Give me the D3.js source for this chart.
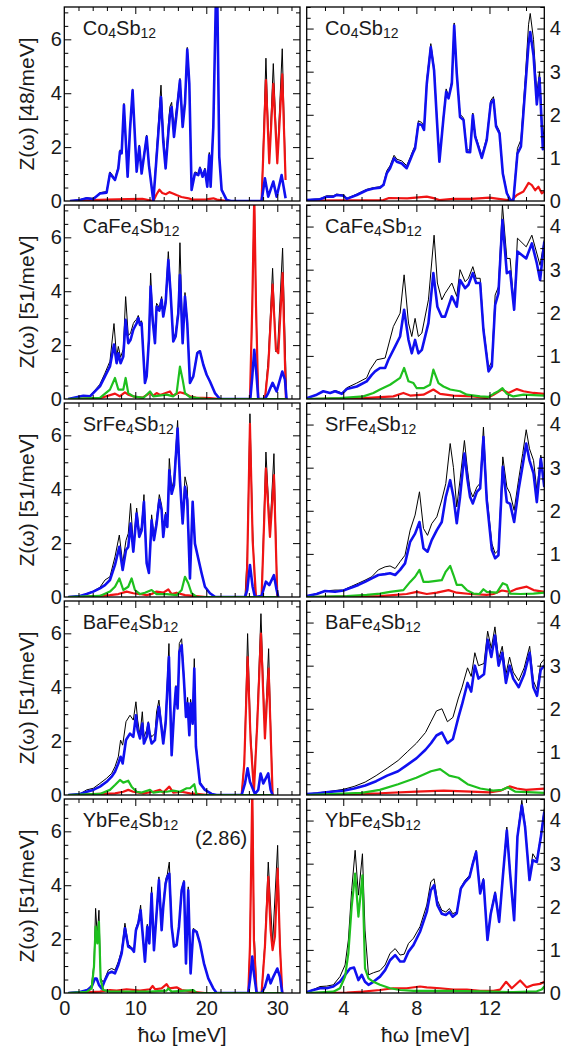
<!DOCTYPE html>
<html>
<head>
<meta charset="utf-8">
<script src="https://cdn.jsdelivr.net/npm/d3@7"></script>
<style>
  body { margin: 0; background: #fff; }
  text { font-family: "Liberation Sans", Arial, Helvetica, sans-serif; fill: #1a1a1a; }
</style>
</head>
<body>
<div id="chart"></div>
<script>
// ---- data: [hbar omega (meV), Z(omega)] ----
var names = [["Co", "4", "Sb", "12"], ["CaFe", "4", "Sb", "12"], ["SrFe", "4", "Sb", "12"], ["BaFe", "4", "Sb", "12"], ["YbFe", "4", "Sb", "12"]];
var yLabels = ["Z(\u03c9) [48/meV]", "Z(\u03c9) [51/meV]", "Z(\u03c9) [51/meV]", "Z(\u03c9) [51/meV]", "Z(\u03c9) [51/meV]"];
var leftTicks = [0, 2, 4, 6];
var rightTicks = [0, 1, 2, 3, 4];
var bottomTicksL = [0, 10, 20, 30];
var bottomTicksR = [4, 8, 12];

// Co4Sb12
var coL_black = [[0.80,0],[2.21,0.05],[3.15,0.12],[4.08,0.09],[5.02,0.31],[5.96,0.35],[6.43,1.08],[7.14,0.84],[7.61,1.28],[7.84,1.90],[8.08,1.84],[8.40,3.62],[8.92,0.96],[9.25,2.70],[9.62,4.16],[10.19,1.15],[10.56,2.08],[10.89,1.10],[11.60,2.45],[11.92,1.40],[12.54,0.02],[13.00,1.90],[13.62,4.30],[13.94,2.50],[14.27,1.48],[14.65,2.82],[14.88,3.50],[15.12,3.66],[15.45,2.65],[15.82,3.50],[16.29,4.55],[16.67,2.95],[17.00,3.80],[17.32,5.70],[17.61,4.50],[17.93,0.50],[18.40,1.08],[18.87,1.02],[19.11,1.27],[19.48,0.96],[19.81,1.22],[20.14,0.60],[20.42,1.80],[20.61,0.62],[20.99,2.85],[21.36,7.6],[21.55,7.6],[21.83,1.70],[22.16,0.43],[22.86,0.04],[23.5,0],[27.79,0],[28.40,5.30],[28.87,1.52],[29.44,5.10],[30.0,1.52],[30.70,5.65],[31.17,0.90]];
var coL_blue = [[0.80,0],[2.21,0.04],[3.15,0.10],[4.08,0.07],[5.02,0.28],[5.96,0.31],[6.43,1.02],[7.14,0.78],[7.61,1.21],[7.84,1.83],[8.08,1.77],[8.40,3.56],[8.92,0.90],[9.25,2.63],[9.62,4.11],[10.19,1.09],[10.56,2.01],[10.89,1.02],[11.60,2.38],[11.92,1.33],[12.54,0],[13.00,1.64],[13.62,3.86],[13.94,2.20],[14.27,1.21],[14.65,2.51],[14.88,3.19],[15.12,3.49],[15.45,2.38],[15.82,3.25],[16.29,4.48],[16.67,2.75],[17.00,3.62],[17.32,5.62],[17.61,4.36],[17.93,0.41],[18.40,1.02],[18.87,0.96],[19.11,1.21],[19.48,0.90],[19.81,1.15],[20.14,0.53],[20.42,1.70],[20.61,0.53],[20.99,2.75],[21.36,7.6],[21.55,7.6],[21.83,1.64],[22.16,0.41],[22.86,0.04],[23.5,0],[27.79,0],[28.26,0.84],[28.73,0.16],[29.44,0.72],[29.91,0.16],[30.61,0.96],[31.17,0.10]];
var coL_red = [[0.80,0],[3.0,0.02],[6.0,0.05],[9.0,0.07],[11.0,0.08],[12.54,0],[13.0,0.25],[13.4,0.42],[13.8,0.30],[14.3,0.25],[14.8,0.33],[15.3,0.28],[15.8,0.22],[16.5,0.15],[17.5,0.10],[18.0,0.05],[20.0,0.06],[21.0,0.10],[21.5,0.05],[22.86,0],[27.79,0],[28.40,4.49],[28.87,1.40],[29.44,4.35],[30.0,1.40],[30.70,4.70],[31.17,0.78]];
var coR_black = [[2.00,0.03],[2.73,0.05],[3.09,0.12],[3.46,0.12],[3.64,0.16],[4.01,0.14],[4.19,0.06],[4.74,0.16],[5.28,0.27],[5.65,0.31],[6.01,0.33],[6.20,0.40],[6.38,0.70],[6.56,0.82],[6.78,1.06],[6.93,0.97],[7.20,0.93],[7.47,0.82],[7.66,1.01],[7.84,1.20],[7.93,1.28],[8.11,1.86],[8.30,1.82],[8.42,1.71],[8.57,2.82],[8.79,3.65],[8.97,3.10],[9.12,1.97],[9.26,0.94],[9.48,1.97],[9.63,2.60],[9.76,2.44],[9.94,2.79],[10.07,4.13],[10.21,3.02],[10.39,2.01],[10.58,1.93],[10.76,1.19],[10.94,1.18],[11.09,2.04],[11.22,1.54],[11.34,1.38],[11.58,1.05],[11.85,1.47],[12.07,2.33],[12.22,2.42],[12.36,1.78],[12.55,1.62],[12.73,0.68],[12.95,0.20],[13.17,0],[13.31,0.04],[13.53,1.22],[13.72,1.42],[13.95,2.80],[14.14,4.10],[14.23,4.35],[14.41,3.75],[14.59,2.50],[14.74,3.0],[14.92,1.40],[15.0,1.75]];
var coR_blue = [[2.00,0.02],[2.73,0.04],[3.09,0.10],[3.46,0.10],[3.64,0.14],[4.01,0.12],[4.19,0.05],[4.74,0.14],[5.28,0.25],[5.65,0.29],[6.01,0.31],[6.20,0.37],[6.38,0.64],[6.56,0.76],[6.78,0.99],[6.93,0.91],[7.20,0.87],[7.47,0.76],[7.66,0.95],[7.84,1.14],[7.93,1.22],[8.11,1.79],[8.30,1.76],[8.42,1.65],[8.57,2.72],[8.79,3.57],[8.97,3.03],[9.12,1.91],[9.26,0.91],[9.48,1.91],[9.63,2.53],[9.76,2.38],[9.94,2.72],[10.07,4.07],[10.21,2.96],[10.39,1.95],[10.58,1.88],[10.76,1.14],[10.94,1.13],[11.09,1.99],[11.22,1.49],[11.34,1.33],[11.58,1.00],[11.85,1.41],[12.07,2.27],[12.22,2.35],[12.36,1.73],[12.55,1.57],[12.73,0.64],[12.95,0.18],[13.17,0],[13.31,0.02],[13.53,1.10],[13.72,1.26],[13.95,2.57],[14.14,3.65],[14.23,3.92],[14.41,3.38],[14.59,2.24],[14.74,2.85],[14.92,1.20],[15.0,1.55]];
var coR_red = [[2.0,0.01],[6.2,0.02],[6.5,0.07],[7.5,0.06],[8.57,0.10],[9.0,0.06],[9.26,0.02],[10.0,0.05],[11.0,0.05],[12.0,0.08],[12.5,0.05],[13.0,0.02],[13.17,0],[13.5,0.14],[13.86,0.22],[14.14,0.42],[14.32,0.37],[14.50,0.25],[14.68,0.33],[14.86,0.18],[15.0,0.22]];

// CaFe4Sb12
var caL_black = [[0.56,0],[2.68,0.12],[3.62,0.12],[4.55,0.40],[5.02,0.55],[5.73,0.96],[6.43,1.40],[7.00,2.80],[7.37,1.55],[7.61,1.95],[7.93,1.55],[8.31,1.85],[8.64,3.80],[9.01,2.35],[9.34,2.45],[9.72,2.80],[9.95,2.90],[10.19,2.96],[10.42,3.10],[10.66,2.85],[10.89,2.90],[11.36,0.65],[11.60,0.90],[11.92,2.40],[12.16,4.67],[12.44,3.10],[12.77,2.15],[13.00,3.55],[13.38,3.40],[13.71,3.80],[13.94,3.20],[14.27,3.70],[14.65,5.47],[14.98,4.05],[15.35,2.25],[15.68,2.45],[16.06,3.40],[16.29,5.80],[16.67,2.30],[17.00,3.95],[17.32,2.90],[17.70,0.65],[18.17,0.87],[18.73,1.75],[19.11,1.80],[19.58,1.30],[20.05,0.92],[20.52,0.66],[21.22,0.22],[21.92,0],[26.2,0],[26.48,3.5],[26.76,7.6],[27.0,3.5],[27.32,0],[28.26,0],[28.73,1.5],[29.34,4.85],[29.81,1.75],[30.05,1.85],[30.75,5.60],[31.31,0]];
var caL_blue = [[0.56,0],[2.68,0.12],[3.62,0.10],[4.55,0.35],[5.02,0.47],[5.73,0.84],[6.43,1.21],[7.00,2.02],[7.37,1.33],[7.61,1.70],[7.93,1.33],[8.31,1.58],[8.64,2.94],[9.01,2.07],[9.34,2.20],[9.72,2.57],[9.95,2.69],[10.19,2.81],[10.42,3.00],[10.66,2.75],[10.89,2.81],[11.36,0.60],[11.60,0.84],[11.92,2.20],[12.16,4.17],[12.44,2.94],[12.77,2.07],[13.00,3.43],[13.38,3.28],[13.71,3.68],[13.94,3.06],[14.27,3.56],[14.65,5.16],[14.98,3.90],[15.35,2.14],[15.68,2.32],[16.06,3.19],[16.29,4.60],[16.67,2.07],[17.00,3.80],[17.32,2.81],[17.70,0.60],[18.17,0.84],[18.73,1.70],[19.11,1.77],[19.58,1.27],[20.05,0.90],[20.52,0.65],[21.22,0.22],[21.92,0],[26.2,0],[26.48,0.84],[26.76,1.83],[27.09,0.84],[27.32,0],[28.26,0],[28.73,0.22],[29.34,0.60],[29.91,0.28],[30.70,1.02],[31.08,0.72],[31.31,0]];
var caL_red = [[0.56,0],[5.0,0.03],[7.14,0.20],[7.8,0.10],[8.54,0.25],[9.0,0.16],[10.0,0.08],[11.0,0.05],[12.07,0.22],[12.5,0.12],[13.0,0.22],[13.5,0.15],[14.88,0.28],[15.3,0.12],[16.29,0.25],[17.0,0.20],[17.70,0.10],[18.5,0.05],[20.5,0.03],[22.0,0],[26.15,0],[26.48,3.5],[26.76,7.6],[27.0,3.5],[27.32,0],[28.26,0],[28.73,1.2],[29.34,4.25],[29.81,1.83],[30.14,1.70],[30.75,4.67],[31.22,0]];
var caL_green = [[0.56,0],[5.02,0.04],[6.43,0.35],[7.14,0.78],[7.61,0.35],[8.31,0.35],[8.64,0.78],[9.01,0.22],[9.72,0.10],[11.13,0.04],[12.07,0.28],[12.54,0.10],[14.41,0.16],[15.35,0.10],[15.82,0.22],[16.29,1.20],[16.67,0.72],[17.00,0.22],[17.70,0.07],[19.11,0.02],[20.0,0],[31.31,0]];
var caR_black = [[2.00,0.02],[2.55,0.10],[2.91,0.18],[3.28,0.14],[3.55,0.20],[3.92,0.14],[4.19,0.26],[4.74,0.37],[5.28,0.49],[5.47,0.68],[5.83,0.91],[6.29,0.95],[6.74,1.68],[7.11,1.99],[7.33,2.88],[7.57,1.76],[7.75,1.45],[7.93,1.87],[8.11,1.45],[8.30,1.53],[8.66,2.30],[8.97,3.80],[9.15,2.69],[9.39,2.30],[9.57,2.45],[9.94,2.69],[10.21,2.38],[10.39,3.00],[10.67,2.72],[10.85,2.80],[11.09,3.07],[11.27,2.80],[11.49,2.80],[11.67,1.68],[11.95,0.72],[12.13,0.87],[12.31,2.41],[12.49,2.60],[12.71,4.50],[12.95,3.26],[13.13,3.26],[13.35,2.12],[13.53,3.73],[14.01,3.53],[14.32,3.80],[14.77,3.10],[15.0,3.70]];
var caR_blue = [[2.00,0.02],[2.55,0.10],[2.91,0.18],[3.28,0.14],[3.55,0.18],[3.92,0.12],[4.19,0.23],[4.74,0.29],[5.28,0.41],[5.56,0.56],[5.74,0.64],[6.01,0.72],[6.29,0.72],[6.47,0.91],[6.84,1.22],[7.11,1.45],[7.33,2.07],[7.57,1.37],[7.75,1.06],[7.93,1.37],[8.11,1.06],[8.30,1.14],[8.66,1.76],[8.93,2.92],[9.15,2.14],[9.39,1.91],[9.57,1.91],[9.94,2.38],[10.21,2.14],[10.39,2.76],[10.67,2.57],[10.85,2.65],[11.09,2.92],[11.27,2.69],[11.49,2.69],[11.67,1.60],[11.95,0.64],[12.13,0.76],[12.31,2.18],[12.49,2.45],[12.71,4.15],[12.95,2.92],[13.13,2.96],[13.35,2.07],[13.53,3.42],[13.77,3.34],[14.01,3.26],[14.32,3.61],[14.59,3.15],[14.77,2.76],[15.0,3.65]];
var caR_red = [[2.0,0],[5.10,0.02],[6.74,0.06],[7.29,0.14],[7.66,0.08],[8.39,0.10],[8.93,0.22],[9.30,0.12],[10.03,0.08],[11.12,0.06],[11.85,0.02],[12.22,0.10],[12.68,0.22],[13.04,0.14],[13.50,0.23],[13.86,0.18],[14.41,0.14],[15.0,0.12]];
var caR_green = [[2.0,0],[3.82,0.02],[5.10,0.06],[5.65,0.14],[6.01,0.22],[6.56,0.33],[7.11,0.49],[7.33,0.72],[7.57,0.41],[7.84,0.37],[8.02,0.25],[8.39,0.25],[8.75,0.33],[8.93,0.68],[9.21,0.37],[9.48,0.29],[9.85,0.22],[10.39,0.18],[10.76,0.10],[11.49,0.06],[11.95,0.05],[12.22,0.12],[12.49,0.18],[12.71,0.25],[12.95,0.12],[13.31,0.06],[13.86,0.10],[15.0,0.08]];

// SrFe4Sb12
var srL_black = [[0.56,0],[2.21,0.04],[3.15,0.12],[4.08,0.22],[5.02,0.36],[5.73,0.63],[6.43,0.75],[7.14,1.49],[7.75,2.30],[8.22,1.25],[8.69,2.10],[9.01,2.36],[9.34,3.47],[9.72,1.90],[10.19,3.30],[10.56,2.40],[10.89,2.60],[11.22,3.80],[11.60,1.35],[11.92,0.95],[12.30,3.05],[12.63,2.25],[13.00,2.90],[13.38,3.80],[13.71,3.40],[13.94,2.35],[14.27,3.15],[14.51,2.75],[14.79,5.14],[15.12,4.00],[15.45,4.35],[15.96,6.55],[16.29,4.50],[16.67,2.85],[17.00,4.46],[17.32,4.09],[17.70,0.75],[18.08,3.56],[18.40,2.00],[18.87,1.45],[19.34,0.90],[19.81,0.38],[20.52,0.14],[21.22,0.01],[21.5,0],[25.45,0],[25.77,1.5],[26.15,6.80],[26.53,2.5],[26.85,0.3],[27.09,0],[27.79,0.04],[28.40,5.38],[28.97,2.48],[29.53,5.32],[30.0,0],[30.14,0]];
var srL_blue = [[0.56,0],[2.21,0.04],[3.15,0.11],[4.08,0.20],[5.02,0.32],[5.73,0.44],[6.43,0.63],[7.14,1.19],[7.75,1.86],[8.22,1.00],[8.69,1.74],[9.01,1.86],[9.34,2.73],[9.72,1.68],[10.19,3.10],[10.56,2.23],[10.89,2.47],[11.22,3.53],[11.60,1.25],[11.92,0.89],[12.30,2.85],[12.63,2.11],[13.00,2.72],[13.38,3.60],[13.71,3.23],[13.94,2.23],[14.27,3.04],[14.51,2.60],[14.79,4.70],[15.12,3.83],[15.45,4.15],[15.96,6.25],[16.29,4.33],[16.67,2.73],[17.00,4.09],[17.32,3.60],[17.70,0.69],[18.08,3.53],[18.40,1.98],[18.87,1.43],[19.34,0.88],[19.81,0.38],[20.52,0.14],[21.22,0.01],[21.5,0],[25.45,0],[25.77,0.26],[26.15,1.19],[26.53,0.38],[26.85,0],[27.79,0.04],[28.40,0.57],[28.87,0.44],[29.53,0.81],[29.91,0.26],[30.14,0]];
var srL_red = [[0.56,0],[5.02,0.04],[6.43,0.07],[7.61,0.11],[8.78,0.20],[9.72,0.14],[10.66,0.11],[11.60,0.07],[12.30,0.11],[13.00,0.20],[13.94,0.16],[14.65,0.28],[15.12,0.11],[15.82,0.16],[17.00,0.07],[18.17,0.04],[20.05,0],[25.59,0],[25.77,1.25],[26.15,6.43],[26.53,2.10],[27.00,0],[27.79,0],[28.40,4.77],[28.97,2.23],[29.53,4.52],[30.0,0]];
var srL_green = [[0.56,0],[5.02,0.04],[6.43,0.20],[7.14,0.38],[7.75,0.69],[8.31,0.26],[9.01,0.38],[9.48,0.69],[9.95,0.26],[10.66,0.11],[11.36,0.16],[12.30,0.26],[13.00,0.11],[14.41,0.11],[15.82,0.07],[16.53,0.26],[17.00,0.75],[17.46,0.51],[17.93,0.14],[18.64,0],[30.14,0]];
var srR_black = [[2.00,0.02],[2.55,0.08],[3.00,0.14],[3.55,0.16],[4.01,0.16],[4.19,0.20],[4.46,0.25],[4.83,0.32],[5.19,0.39],[5.56,0.47],[5.92,0.63],[6.29,0.70],[6.56,0.72],[6.84,0.66],[7.11,0.82],[7.38,0.97],[7.66,1.55],[7.93,1.90],[8.17,2.44],[8.39,1.59],[8.61,1.43],[8.84,1.70],[9.12,1.86],[9.39,2.25],[9.61,2.63],[9.85,3.56],[10.03,3.00],[10.21,2.09],[10.39,2.71],[10.63,3.63],[10.80,2.94],[10.94,2.48],[11.09,2.32],[11.31,2.55],[11.49,2.64],[11.67,3.94],[11.85,2.40],[12.13,1.24],[12.31,1.01],[12.49,1.09],[12.73,3.25],[12.95,2.55],[13.13,2.40],[13.35,2.01],[13.59,2.71],[13.82,3.33],[14.01,3.88],[14.19,3.44],[14.41,3.17],[14.59,2.48],[14.81,3.29],[15.0,2.62]];
var srR_blue = [[2.00,0.02],[2.55,0.07],[3.00,0.14],[3.55,0.12],[4.01,0.15],[4.19,0.18],[4.46,0.22],[4.83,0.28],[5.19,0.35],[5.56,0.43],[5.92,0.51],[6.29,0.53],[6.56,0.55],[6.84,0.51],[7.11,0.63],[7.38,0.78],[7.66,1.28],[7.93,1.47],[8.17,1.74],[8.39,1.13],[8.61,1.05],[8.84,1.32],[9.12,1.55],[9.39,1.74],[9.61,2.32],[9.85,2.71],[10.03,2.32],[10.21,1.71],[10.39,2.32],[10.63,3.33],[10.80,2.71],[10.94,2.32],[11.09,2.17],[11.31,2.44],[11.49,2.52],[11.67,3.71],[11.85,2.25],[12.13,1.09],[12.31,0.90],[12.49,0.97],[12.73,3.02],[12.95,2.20],[13.13,2.16],[13.35,1.74],[13.59,2.48],[13.82,3.06],[14.01,3.56],[14.19,3.17],[14.41,2.87],[14.59,2.20],[14.81,3.21],[15.0,2.55]];
var srR_red = [[2.0,0],[6.01,0.02],[7.47,0.07],[8.02,0.12],[8.57,0.07],[9.12,0.10],[9.76,0.16],[10.21,0.10],[10.94,0.07],[11.85,0.05],[12.22,0.07],[12.68,0.15],[13.13,0.12],[13.50,0.19],[14.04,0.24],[14.41,0.16],[15.0,0.12]];
var srR_green = [[2.0,0],[4.19,0.02],[5.28,0.05],[6.01,0.08],[6.56,0.12],[7.29,0.16],[7.66,0.35],[7.93,0.47],[8.17,0.63],[8.39,0.35],[8.66,0.35],[9.39,0.39],[9.61,0.59],[9.85,0.72],[10.03,0.51],[10.21,0.28],[10.49,0.28],[10.76,0.16],[11.12,0.08],[11.45,0.07],[11.67,0.18],[11.85,0.12],[12.40,0.10],[12.73,0.32],[12.95,0.28],[13.13,0.08],[13.68,0.07],[14.41,0.08],[15.0,0.10]];

// BaFe4Sb12
var baL_black = [[0.56,0],[2.21,0.04],[3.15,0.19],[4.08,0.25],[5.02,0.43],[5.96,0.62],[6.67,0.80],[7.14,1.05],[7.61,1.42],[7.93,2.04],[8.22,1.85],[8.69,2.72],[9.25,2.96],[9.72,2.78],[10.09,3.46],[10.33,2.78],[10.66,2.22],[10.99,3.09],[11.22,2.16],[11.60,2.41],[11.83,2.72],[12.07,2.30],[12.30,2.16],[12.77,2.28],[13.00,3.08],[13.33,3.52],[13.62,2.80],[13.94,2.10],[14.27,2.80],[14.74,5.62],[15.12,1.54],[15.45,3.10],[15.73,4.06],[15.96,3.30],[16.20,5.62],[16.53,5.80],[16.85,4.40],[17.14,3.00],[17.37,3.62],[17.61,2.35],[17.79,3.55],[18.08,2.90],[18.31,5.06],[18.54,1.90],[19.11,0.49],[19.81,0.19],[20.75,0.04],[21.46,0],[24.98,0],[25.35,1.2],[25.82,5.99],[26.24,2.3],[26.71,0.3],[27.18,2.9],[27.70,6.73],[28.26,2.25],[28.78,5.43],[29.34,0]];
var baL_blue = [[0.56,0],[2.21,0.04],[3.15,0.12],[4.08,0.19],[5.02,0.31],[5.96,0.49],[6.67,0.68],[7.14,0.86],[7.61,1.17],[7.93,1.42],[8.22,1.17],[8.69,2.04],[9.25,2.28],[9.72,2.16],[10.09,2.96],[10.33,2.41],[10.66,2.10],[10.99,2.65],[11.22,1.91],[11.60,2.16],[11.83,2.65],[12.07,2.16],[12.30,1.91],[12.77,2.04],[13.00,2.65],[13.33,3.27],[13.62,2.65],[13.94,1.91],[14.27,2.65],[14.74,5.12],[15.12,1.48],[15.45,3.04],[15.73,4.00],[15.96,3.21],[16.20,5.31],[16.53,5.56],[16.85,4.27],[17.14,2.90],[17.37,3.40],[17.61,2.22],[17.79,3.40],[18.08,2.65],[18.31,4.69],[18.54,1.80],[19.11,0.43],[19.81,0.19],[20.75,0.04],[21.46,0],[24.98,0],[25.45,0.43],[25.82,0.99],[26.15,0.49],[26.85,0.04],[27.32,0.19],[27.65,0.80],[28.03,0.43],[28.73,0.80],[29.06,0.19],[29.34,0]];
var baL_red = [[0.56,0],[5.02,0.04],[7.14,0.06],[8.31,0.12],[9.01,0.19],[9.72,0.12],[11.13,0.06],[12.54,0.12],[13.47,0.19],[13.94,0.09],[14.79,0.31],[15.35,0.09],[16.53,0.12],[17.70,0.06],[18.64,0.04],[20.28,0],[24.98,0],[25.35,1.17],[25.82,5.12],[26.24,2.04],[26.71,0.12],[27.18,2.65],[27.70,5.99],[28.26,2.10],[28.78,4.69],[29.34,0]];
var baL_green = [[0.56,0],[5.02,0.04],[6.43,0.19],[7.14,0.37],[7.84,0.56],[8.31,0.46],[9.01,0.53],[9.48,0.31],[10.19,0.12],[10.89,0.09],[12.07,0.19],[12.54,0.09],[13.47,0.12],[14.41,0.12],[15.35,0.16],[16.29,0.12],[17.23,0.25],[17.70,0.25],[18.31,0.40],[18.64,0],[29.34,0]];
var baR_black = [[2.0,0.02],[2.6,0.05],[3.2,0.08],[4.0,0.13],[4.6,0.2],[5.2,0.3],[5.8,0.45],[6.4,0.62],[7.0,0.8],[7.5,1.0],[8.0,1.2],[8.5,1.45],[8.8,1.7],[9.1,1.95],[9.4,2.0],[9.7,1.7],[10.0,1.8],[10.3,2.25],[10.5,2.5],[10.8,2.95],[11.0,2.75],[11.2,3.3],[11.4,3.0],[11.7,3.05],[11.9,3.8],[12.1,3.4],[12.3,3.9],[12.5,3.15],[12.7,3.45],[12.9,2.8],[13.1,3.2],[13.3,2.85],[13.6,2.65],[13.9,2.95],[14.2,3.45],[14.4,2.65],[14.6,2.45],[14.8,3.05],[15.0,3.15]];
var baR_blue = [[2.0,0.02],[2.6,0.04],[3.2,0.07],[4.0,0.1],[4.6,0.15],[5.2,0.22],[5.8,0.32],[6.4,0.45],[7.0,0.55],[7.5,0.7],[8.0,0.85],[8.5,1.05],[8.8,1.2],[9.1,1.38],[9.4,1.45],[9.7,1.2],[10.0,1.3],[10.3,1.8],[10.5,2.1],[10.8,2.6],[11.0,2.4],[11.2,3.0],[11.4,2.7],[11.7,2.8],[11.9,3.6],[12.1,3.2],[12.3,3.7],[12.5,3.0],[12.7,3.3],[12.9,2.6],[13.1,3.0],[13.3,2.7],[13.6,2.5],[13.9,2.8],[14.2,3.3],[14.4,2.5],[14.6,2.3],[14.8,2.9],[15.0,3.0]];
var baR_red = [[2.0,0],[6.0,0.04],[8.0,0.08],[9.5,0.1],[11.0,0.08],[12.0,0.06],[12.6,0.1],[13.1,0.2],[13.5,0.15],[14.0,0.12],[15.0,0.15]];
var baR_green = [[2.0,0],[5.0,0.05],[6.0,0.12],[7.0,0.25],[8.0,0.4],[8.8,0.55],[9.3,0.6],[9.8,0.45],[10.3,0.4],[10.8,0.25],[11.5,0.15],[12.2,0.1],[12.7,0.12],[13.0,0.18],[13.4,0.08],[15.0,0.05]];

// YbFe4Sb12
var ybL_black = [[0.56,0],[2.21,0.04],[3.24,0.12],[3.85,0.30],[4.18,1.10],[4.41,3.14],[4.65,2.09],[4.88,3.07],[5.12,0.55],[5.49,0.40],[5.73,0.54],[6.20,0.85],[6.67,0.91],[7.14,0.85],[7.61,1.16],[8.08,1.60],[8.54,2.59],[9.01,1.80],[9.48,1.70],[9.81,1.58],[10.09,2.40],[10.42,2.65],[10.75,3.26],[10.99,2.40],[11.36,1.20],[11.69,2.55],[11.97,1.90],[12.30,3.94],[12.63,1.65],[13.00,3.05],[13.33,4.31],[13.71,2.40],[13.94,3.30],[14.27,4.20],[14.51,4.40],[14.79,4.86],[15.12,2.55],[15.45,1.78],[15.82,1.82],[16.15,2.50],[16.53,3.86],[16.85,4.18],[17.14,1.12],[17.46,3.94],[17.79,0.75],[18.17,2.40],[18.64,2.30],[19.11,1.86],[19.67,1.12],[20.28,0.55],[20.99,0.17],[21.46,0],[25.92,0],[26.15,1.8],[26.48,7.6],[26.71,2.5],[27.09,0],[27.79,0],[28.26,1.9],[28.73,4.86],[29.34,1.84],[30.05,5.48],[30.38,1.7],[30.70,0]];
var ybL_blue = [[0.56,0],[2.21,0.04],[3.24,0.11],[3.85,0.23],[4.32,0.54],[4.55,0.54],[4.88,0.30],[5.26,0.17],[5.73,0.48],[6.20,0.73],[6.67,0.79],[7.14,0.73],[7.61,1.04],[8.08,1.47],[8.54,2.40],[9.01,1.72],[9.48,1.65],[9.81,1.53],[10.09,2.33],[10.42,2.58],[10.75,3.07],[10.99,2.33],[11.36,1.16],[11.69,2.46],[11.97,1.84],[12.30,3.69],[12.63,1.59],[13.00,2.95],[13.33,4.19],[13.71,2.33],[13.94,3.20],[14.27,4.06],[14.51,4.31],[14.79,4.43],[15.12,2.46],[15.45,1.72],[15.82,1.78],[16.15,2.46],[16.53,3.81],[16.85,4.12],[17.14,1.10],[17.46,3.81],[17.79,0.73],[18.17,2.33],[18.64,2.27],[19.11,1.84],[19.67,1.10],[20.28,0.54],[20.99,0.17],[21.46,0],[25.92,0],[26.15,0.48],[26.48,1.35],[26.71,0.73],[27.09,0],[27.79,0],[28.26,0.23],[28.73,0.67],[29.06,0.36],[29.44,0.60],[30.0,0.91],[30.38,0.60],[30.70,0]];
var ybL_red = [[0.56,0],[5.02,0.05],[6.43,0.11],[7.37,0.09],[8.78,0.14],[10.66,0.09],[12.07,0.14],[12.44,0.26],[12.77,0.14],[13.71,0.17],[14.41,0.33],[14.79,0.17],[15.82,0.21],[16.53,0.11],[18.17,0.04],[19.81,0],[25.92,0],[26.15,1.72],[26.48,7.6],[26.71,1.96],[27.09,0],[27.79,0],[28.26,1.72],[28.73,4.31],[29.06,2.33],[29.34,1.59],[29.67,2.09],[30.05,4.62],[30.38,1.72],[30.70,0]];
var ybL_green = [[0.56,0],[3.15,0.04],[3.85,0.17],[4.18,0.98],[4.41,2.46],[4.65,1.84],[4.88,2.64],[5.12,0.48],[5.49,0.11],[6.43,0.05],[12.07,0.05],[14.41,0.09],[14.65,0.17],[15.12,0.05],[18.17,0.11],[18.64,0],[30.70,0]];
var ybR_black = [[2.00,0.02],[2.36,0.08],[2.73,0.15],[3.09,0.16],[3.46,0.19],[3.82,0.38],[4.10,0.65],[4.28,1.23],[4.46,2.38],[4.65,3.31],[4.83,2.27],[5.05,3.23],[5.19,1.46],[5.38,0.42],[5.65,0.47],[6.01,0.52],[6.29,0.65],[6.56,0.92],[6.84,1.03],[7.11,0.88],[7.33,0.90],[7.57,1.15],[7.84,1.27],[8.20,1.54],[8.57,2.04],[8.79,2.58],[8.97,2.65],[9.15,2.15],[9.39,1.92],[9.61,1.88],[9.81,1.96],[9.99,1.84],[10.21,1.88],[10.43,2.45],[10.67,2.62],[10.91,2.73],[11.09,3.04],[11.27,3.31],[11.49,2.35],[11.67,2.66],[11.89,1.27],[12.07,1.88],[12.31,2.35],[12.53,1.69],[12.73,2.73],[12.95,3.85],[13.13,2.81],[13.35,1.73],[13.53,3.66],[13.77,4.47],[13.95,3.90],[14.19,2.66],[14.37,3.23],[14.59,3.08],[14.81,3.66],[15.0,4.28]];
var ybR_blue = [[2.00,0.02],[2.36,0.07],[2.73,0.11],[3.09,0.11],[3.46,0.15],[3.82,0.26],[4.10,0.42],[4.37,0.57],[4.59,0.59],[4.83,0.30],[5.01,0.42],[5.19,0.26],[5.38,0.19],[5.65,0.26],[6.01,0.38],[6.29,0.53],[6.56,0.76],[6.84,0.88],[7.11,0.73],[7.33,0.73],[7.57,0.96],[7.84,1.11],[8.20,1.42],[8.57,1.88],[8.79,2.38],[8.97,2.50],[9.15,2.04],[9.39,1.84],[9.61,1.81],[9.81,1.88],[9.99,1.77],[10.21,1.85],[10.43,2.42],[10.67,2.58],[10.91,2.69],[11.09,3.00],[11.27,3.27],[11.49,2.31],[11.67,2.62],[11.89,1.23],[12.07,1.84],[12.31,2.31],[12.53,1.65],[12.73,2.69],[12.95,3.77],[13.13,2.77],[13.35,1.69],[13.53,3.62],[13.77,4.35],[13.95,3.85],[14.19,2.62],[14.37,3.08],[14.59,3.04],[14.81,3.62],[15.0,4.20]];
var ybR_red = [[2.0,0],[4.19,0.01],[5.10,0.03],[6.01,0.07],[6.74,0.11],[7.47,0.11],[8.20,0.15],[8.57,0.13],[9.30,0.11],[10.03,0.08],[10.76,0.08],[11.49,0.05],[12.22,0.05],[12.58,0.08],[12.91,0.26],[13.22,0.11],[13.68,0.29],[14.04,0.13],[14.41,0.19],[14.77,0.21],[15.0,0.26]];
var ybR_green = [[2.0,0],[3.46,0.03],[3.82,0.11],[4.10,0.38],[4.28,0.92],[4.46,2.00],[4.65,2.77],[4.83,1.77],[5.05,2.73],[5.19,0.57],[5.38,0.34],[5.65,0.26],[6.01,0.19],[6.56,0.11],[7.11,0.07],[7.84,0.05],[9.66,0.05],[11.49,0.04],[13.31,0.02],[14.59,0.04],[14.86,0.08],[15.0,0.15]];

var rows = [
  { left: [coL_black, coL_red, coL_blue, null], right: [coR_black, coR_red, coR_blue, null] },
  { left: [caL_black, caL_red, caL_blue, caL_green], right: [caR_black, caR_red, caR_blue, caR_green] },
  { left: [srL_black, srL_red, srL_blue, srL_green], right: [srR_black, srR_red, srR_blue, srR_green] },
  { left: [baL_black, baL_red, baL_blue, baL_green], right: [baR_black, baR_red, baR_blue, baR_green] },
  { left: [ybL_black, ybL_red, ybL_blue, ybL_green], right: [ybR_black, ybR_red, ybR_blue, ybR_green] }
];
var colors = ["#000000", "#f01414", "#1010f0", "#1ec01e"];
var widths = [1, 2.2, 2.6, 2.2];

// ---- layout ----
var w = 578, h = 1050;
var top0 = 7, panelH = 194, pitch = 198;
var colL = [64.3, 300], colR = [306.7, 544.3];

var svg = d3.select("#chart").append("svg")
    .attr("width", w)
    .attr("height", h);

var xLeft = d3.scaleLinear().domain([0, 33.2]).range(colL);
var xRight = d3.scaleLinear().domain([2, 15]).range(colR);

function minorTicks(a, b, step) {
  var out = [];
  for (var v = a; v <= b + 1e-9; v += step) out.push(+v.toFixed(3));
  return out;
}

function drawPanel(g, x, y, series, side, idx, isLast) {
  var x0 = x.range()[0], x1 = x.range()[1];
  var yb = y.range()[0], yt = y.range()[1];
  var clipId = "clip-" + side + idx;

  g.append("clipPath").attr("id", clipId)
    .append("rect")
    .attr("x", x0).attr("y", yt)
    .attr("width", x1 - x0).attr("height", yb - yt);

  var line = d3.line()
    .x(function(d) { return x(d[0]); })
    .y(function(d) { return y(d[1]); });

  var lines = g.append("g").attr("clip-path", "url(#" + clipId + ")");
  series.forEach(function(s, i) {
    if (!s) return;
    lines.append("path")
      .datum(s)
      .attr("d", line)
      .attr("fill", "none")
      .attr("stroke", colors[i])
      .attr("stroke-width", widths[i])
      .attr("stroke-linejoin", "round");
  });

  // x ticks (inward, top and bottom)
  var xd = x.domain();
  var xMinor = side === "L" ? minorTicks(0, 32, 2) : minorTicks(3, 14, 1);
  var xMajor = side === "L" ? bottomTicksL : bottomTicksR;
  xMinor = xMinor.filter(function(v) { return xMajor.indexOf(v) < 0 && v > xd[0]; });

  [[d3.axisBottom, yb], [d3.axisTop, yt]].forEach(function(p) {
    g.append("g").attr("transform", "translate(0," + p[1] + ")")
      .call(p[0](x).tickValues(xMinor).tickSize(-4).tickSizeOuter(0).tickFormat(""));
    g.append("g").attr("transform", "translate(0," + p[1] + ")")
      .call(p[0](x).tickValues(xMajor.filter(function(v) { return v > xd[0]; })).tickSize(-7).tickSizeOuter(0).tickFormat(""));
  });

  // y ticks (inward, left and right)
  var yd = y.domain();
  var yMajor = side === "L" ? leftTicks : rightTicks;
  var yMinor = minorTicks(0, yd[1], side === "L" ? 0.5 : 0.25)
    .filter(function(v) { return yMajor.indexOf(v) < 0; });
  [[d3.axisLeft, x0], [d3.axisRight, x1]].forEach(function(p) {
    g.append("g").attr("transform", "translate(" + p[1] + ",0)")
      .call(p[0](y).tickValues(yMinor).tickSize(-4).tickSizeOuter(0).tickFormat(""));
    g.append("g").attr("transform", "translate(" + p[1] + ",0)")
      .call(p[0](y).tickValues(yMajor.slice(1)).tickSize(-7).tickSizeOuter(0).tickFormat(""));
  });

  // tick labels
  if (side === "L") {
    g.append("g").attr("class", "lab").attr("transform", "translate(" + x0 + ",0)")
      .call(d3.axisLeft(y).tickValues(leftTicks).tickSize(0).tickPadding(2.5).tickFormat(d3.format("d")));
  } else {
    g.append("g").attr("class", "lab").attr("transform", "translate(" + x1 + ",0)")
      .call(d3.axisRight(y).tickValues(rightTicks).tickSize(0).tickPadding(5.5).tickFormat(d3.format("d")));
  }
  if (isLast) {
    g.append("g").attr("class", "lab").attr("transform", "translate(0," + yb + ")")
      .call(d3.axisBottom(x).tickValues(xMajor).tickSize(0).tickPadding(7.5).tickFormat(d3.format("d")));
  }

  // frame
  g.append("rect")
    .attr("x", x0).attr("y", yt)
    .attr("width", x1 - x0).attr("height", yb - yt)
    .attr("fill", "none")
    .attr("stroke", "#000")
    .attr("stroke-width", 1.3);

  // compound name with subscripts
  var nm = names[idx];
  var t = g.append("text")
    .attr("x", x0 + 18.4)
    .attr("y", yt + 28)
    .attr("font-size", "20px");
  t.append("tspan").text(nm[0]);
  t.append("tspan").attr("font-size", "14px").attr("dy", 3).text(nm[1]);
  t.append("tspan").attr("dy", -3).text(nm[2]);
  t.append("tspan").attr("font-size", "14px").attr("dy", 3).text(nm[3]);
}

rows.forEach(function(r, i) {
  var yt = top0 + i * pitch, yb = yt + panelH;
  var yL = d3.scaleLinear().domain([0, 7.2]).range([yb, yt]);
  var yR = d3.scaleLinear().domain([0, 4.5]).range([yb, yt]);
  var last = i === rows.length - 1;

  drawPanel(svg.append("g"), xLeft, yL, r.left, "L", i, last);
  drawPanel(svg.append("g"), xRight, yR, r.right, "R", i, last);

  svg.append("text")
    .attr("transform", "translate(34," + (yt + panelH / 2) + ") rotate(-90)")
    .attr("text-anchor", "middle")
    .attr("font-size", "21px")
    .text(yLabels[i]);
});

// peak value note in the YbFe4Sb12 panel
svg.append("text")
  .attr("x", 195)
  .attr("y", 845)
  .attr("font-size", "20px")
  .text("(2.86)");

// x axis titles
[colL, colR].forEach(function(c) {
  svg.append("text")
    .attr("x", (c[0] + c[1]) / 2)
    .attr("y", 1042)
    .attr("text-anchor", "middle")
    .attr("font-size", "21px")
    .text("\u0127\u03c9 [meV]");
});

svg.selectAll(".domain").remove();
svg.selectAll(".tick line").attr("stroke", "#000").attr("stroke-width", 1);
svg.selectAll(".lab text").attr("font-size", "20px").attr("fill", "#1a1a1a")
  .attr("font-family", "'Liberation Sans', Arial, Helvetica, sans-serif");
</script>
</body>
</html>
